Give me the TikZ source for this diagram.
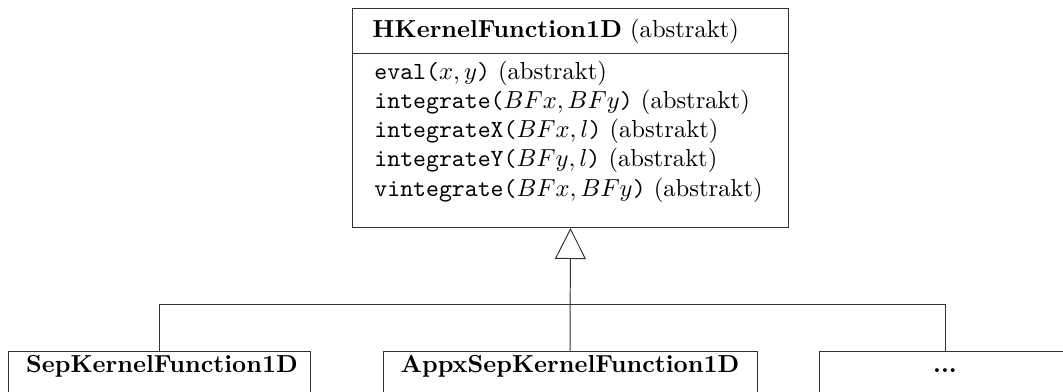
\documentclass[tikz,border=0pt]{standalone}
\usetikzlibrary{arrows.meta}
\newlength{\pxu}
\setlength{\pxu}{0.4065pt}
\colorlet{umlline}{black!80}
\begin{document}
\begin{tikzpicture}[x=\pxu, y=-\pxu,
  classbox/.style={draw=umlline, line width=0.4pt, inner sep=0pt},
  lefttext/.style={inner sep=0pt, anchor=base west},
  midtext/.style={inner sep=0pt, anchor=base},
  inherit/.style={draw=umlline, line width=0.4pt, -{Triangle[open, length=12.6pt, width=12.6pt]}},
  link/.style={draw=umlline, line width=0.4pt}]
\useasboundingbox (0,0) rectangle (1063,391);

% abstract base class
\node[classbox, minimum width=436*\pxu, minimum height=219*\pxu, anchor=north west] (hk) at (352,8) {};
\draw[link] (hk.west |- 0,53) -- (hk.east |- 0,53);
\node[lefttext] (hktitle) at (372,37) {\textbf{HKernelFunction1D} (abstrakt)};
\node[lefttext] (m1) at (374,79)     {\texttt{eval(}$x,y$\texttt{)} (abstrakt)};
\node[lefttext] (m2) at (374,108.25) {\texttt{integrate(}$BFx,BFy$\texttt{)} (abstrakt)};
\node[lefttext] (m3) at (374,137.5)  {\texttt{integrateX(}$BFx,l$\texttt{)} (abstrakt)};
\node[lefttext] (m4) at (374,166.75) {\texttt{integrateY(}$BFy,l$\texttt{)} (abstrakt)};
\node[lefttext] (m5) at (374,196)    {\texttt{vintegrate(}$BFx,BFy$\texttt{)} (abstrakt)};

% derived classes
\node[classbox, minimum width=302*\pxu, minimum height=90*\pxu, anchor=north] (sep) at (159,351) {};
\node[midtext] (septitle) at (162,372) {\textbf{SepKernelFunction1D}};
\node[classbox, minimum width=374*\pxu, minimum height=90*\pxu, anchor=north] (appx) at (570,351) {};
\node[midtext] (appxtitle) at (570,372) {\textbf{AppxSepKernelFunction1D}};
\node[classbox, minimum width=252*\pxu, minimum height=90*\pxu, anchor=north] (more) at (945,351) {};
\node[midtext] (moretitle) at (945,372) {\textbf{...}};

% generalisation
\coordinate (bus) at (570,304);
\draw[link] (sep.north) |- (bus) -| (more.north);
\draw[inherit] (appx.north) -- (hk.south);
\end{tikzpicture}
\end{document}
